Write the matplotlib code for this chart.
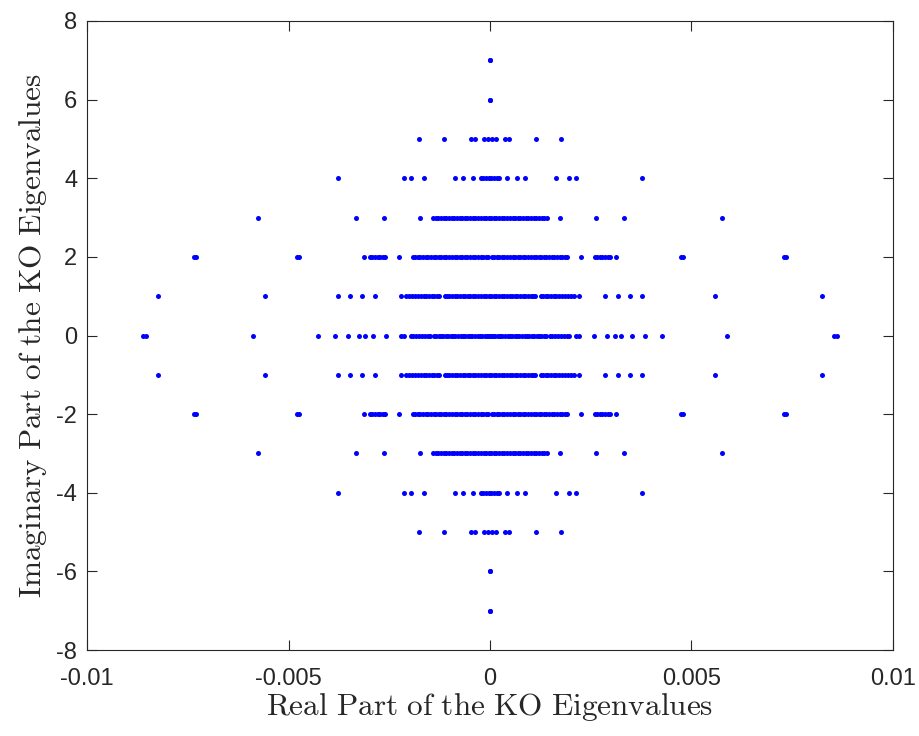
import numpy as np
import matplotlib
matplotlib.use('Agg')
from matplotlib import pyplot as plt

plt.rcParams['axes.unicode_minus'] = False
plt.rcParams['mathtext.fontset'] = 'cm'

# real parts (units of 1e-3) of the eigenvalues on each imaginary level,
# listed for re >= 0; the spectrum is mirrored in re and conjugate in im
re_im0 = [0.02, 0.08, 0.13, 0.19, 0.26, 0.31, 0.37, 0.44, 0.50, 0.55, 0.62,
          0.68, 0.73, 0.80, 0.86, 0.91, 0.98, 1.04, 1.09, 1.16, 1.22, 1.27,
          1.33, 1.38, 1.49, 1.55, 1.62, 1.69, 1.76, 1.83, 1.90, 1.97, 2.14,
          2.22, 2.58, 2.90, 3.09, 3.25, 3.53, 3.84, 4.28, 5.88, 8.54, 8.61]
re_im1 = [0.03, 0.10, 0.16, 0.23, 0.29, 0.36, 0.42, 0.49, 0.55, 0.62, 0.68,
          0.75, 0.81, 0.88, 0.94, 1.01, 1.07, 1.12, 1.26, 1.32, 1.39, 1.45,
          1.52, 1.58, 1.64, 1.72, 1.79, 1.86, 1.93, 2.00, 2.08, 2.22, 2.85,
          3.17, 3.48, 3.76, 5.59, 8.23]
re_im2 = [0.04, 0.10, 0.17, 0.23, 0.30, 0.36, 0.43, 0.49, 0.56, 0.62, 0.69,
          0.75, 0.82, 0.88, 0.95, 1.01, 1.08, 1.14, 1.21, 1.27, 1.34, 1.40,
          1.47, 1.53, 1.60, 1.66, 1.73, 1.79, 1.86, 1.91, 2.25, 2.60, 2.66,
          2.72, 2.79, 2.85, 2.92, 2.98, 3.13, 4.73, 4.78, 7.30, 7.35]
re_im3 = [0.03, 0.10, 0.16, 0.23, 0.29, 0.36, 0.43, 0.49, 0.56, 0.62, 0.69,
          0.75, 0.82, 0.89, 0.95, 1.02, 1.08, 1.15, 1.21, 1.28, 1.34, 1.41,
          1.74, 2.63, 3.33, 5.76]
re_im4 = [0.03, 0.10, 0.17, 0.22, 0.43, 0.66, 0.87, 1.63, 1.97, 2.13, 3.78]
re_im5 = [0.06, 0.16, 0.38, 0.47, 1.13, 1.76]
re_im6 = [0.0]
re_im7 = [0.0]

levels = [0, 1, 2, 3, 4, 5, 6, 7]
rows = [re_im0, re_im1, re_im2, re_im3, re_im4, re_im5, re_im6, re_im7]

re_vals, im_vals = [], []
for lvl, half in zip(levels, rows):
    half = np.asarray(half) * 1e-3
    xs = np.concatenate([-half, half])
    for sign in ([1] if lvl == 0 else [1, -1]):
        re_vals.append(xs)
        im_vals.append(np.full(xs.size, sign * lvl))
re_vals = np.concatenate(re_vals)
im_vals = np.concatenate(im_vals)

fig = plt.figure(figsize=(9.2, 7.36), dpi=100)
ax = fig.add_axes([0.0946, 0.1168, 0.876, 0.8547])

ax.plot(re_vals, im_vals, 'o', color=(0, 0, 1), ms=3.6, mew=0, ls='none')

ax.set_xlim(-0.01, 0.01)
ax.set_ylim(-8, 8)
ax.set_xticks([-0.01, -0.005, 0, 0.005, 0.01])
ax.set_xticklabels(['-0.01', '-0.005', '0', '0.005', '0.01'])
ax.set_yticks(np.arange(-8, 9, 2))
ax.set_yticklabels([str(v) for v in range(-8, 9, 2)])

edge = (0.15, 0.15, 0.15)
for s in ax.spines.values():
    s.set_color(edge)
    s.set_linewidth(0.8)
ax.tick_params(direction='in', length=7, width=0.8, color=edge,
               top=True, right=True, labelsize=17, labelcolor=edge, pad=7)
ax.tick_params(axis='x', pad=13)
for lab in ax.get_xticklabels() + ax.get_yticklabels():
    lab.set_family('Liberation Sans')

ax.set_xlabel(r'$\mathrm{Real\ Part\ of\ the\ KO\ Eigenvalues}$',
              fontsize=22.5, color=edge, labelpad=1)
ax.set_ylabel(r'$\mathrm{Imaginary\ Part\ of\ the\ KO\ Eigenvalues}$',
              fontsize=22.5, color=edge, labelpad=5)

fig.savefig('out.png', dpi=100)
